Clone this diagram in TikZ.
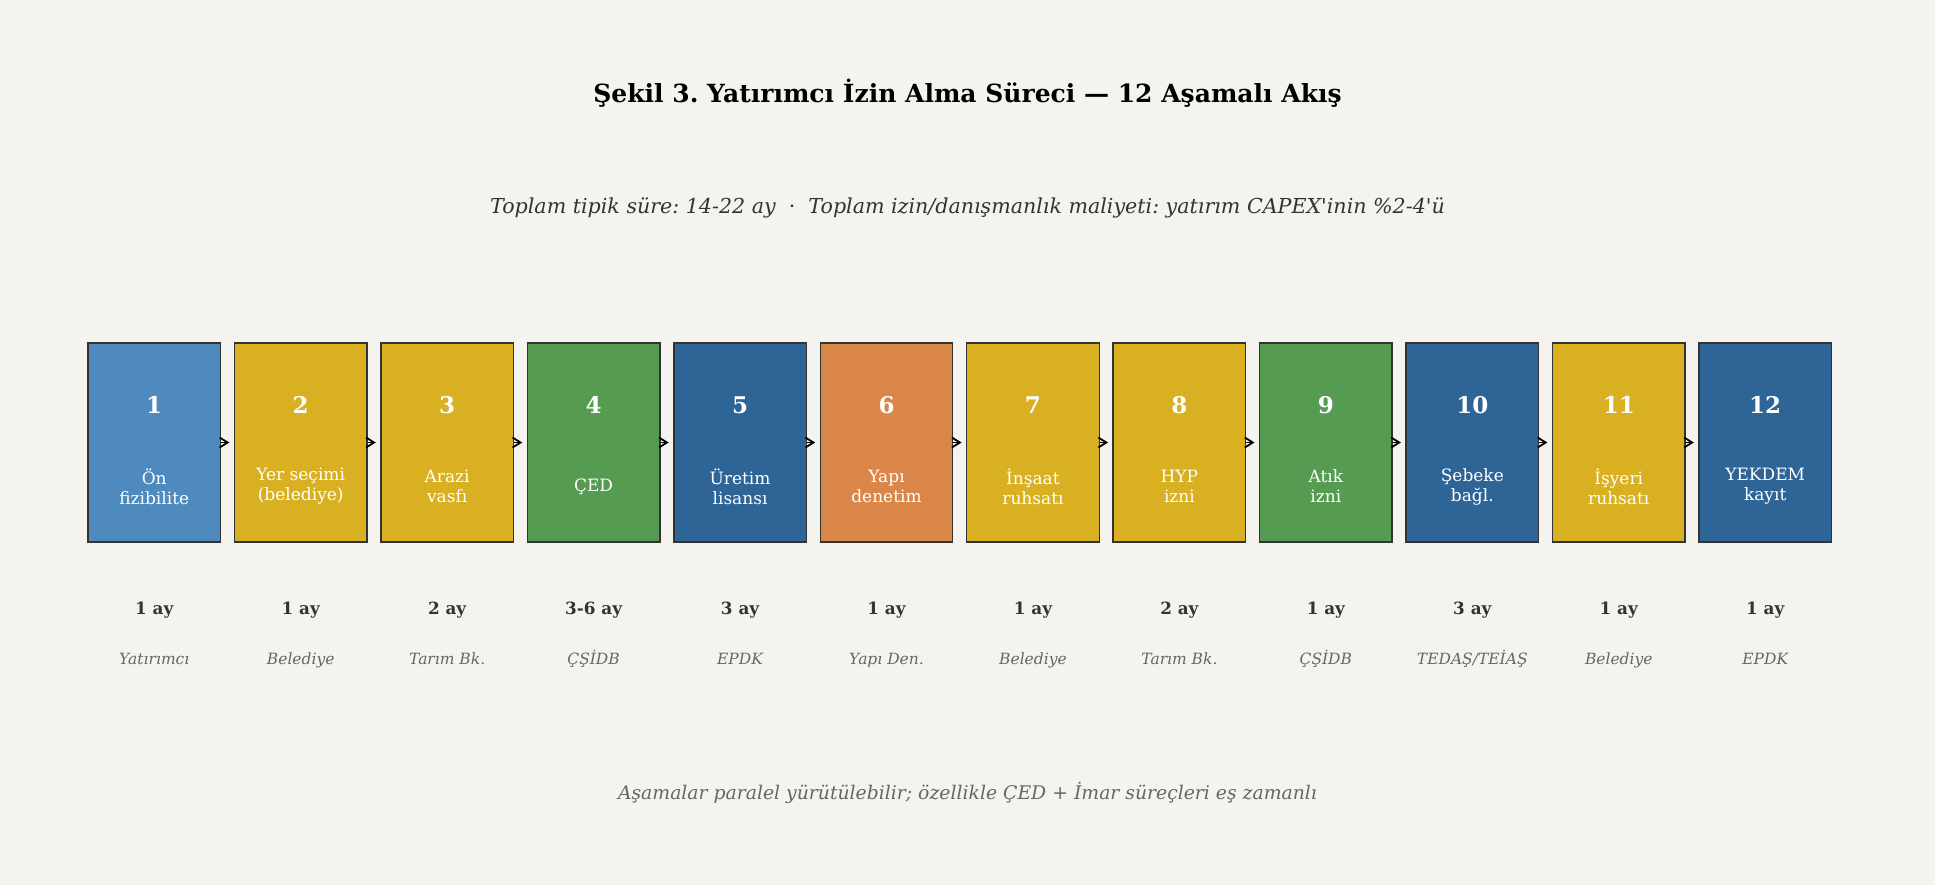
\documentclass[tikz,border=0pt]{standalone}
\usepackage{fontspec}
\setmainfont{DejaVu Serif}
\usetikzlibrary{arrows.meta}
\frenchspacing
\definecolor{bgcream}{HTML}{F5F3ED}
\definecolor{lightblue}{HTML}{4F8ABF}
\definecolor{gold}{HTML}{D9B022}
\definecolor{leafgreen}{HTML}{559B52}
\definecolor{navy}{HTML}{2F6596}
\definecolor{orange}{HTML}{DB8649}
\definecolor{edgegray}{HTML}{333333}
\definecolor{durgray}{HTML}{333333}
\definecolor{agencygray}{HTML}{666666}
\tikzset{
  stage/.style={draw=edgegray, line width=0.7pt, minimum width=66.25pt, minimum height=99.5pt, inner sep=0pt},
  stagenum/.style={text=white, font=\bfseries\fontsize{11.5}{13}\selectfont},
  stagetxt/.style={text=white, align=center, font=\fontsize{8.5}{10}\selectfont},
  dur/.style={text=durgray, text height=1.6ex, text depth=0.4ex, font=\bfseries\fontsize{8.4}{10}\selectfont},
  agency/.style={text=agencygray, text height=1.6ex, text depth=0.4ex, font=\itshape\fontsize{7.75}{9}\selectfont},
  flow/.style={-{Straight Barb[length=4pt,width=5pt]}, line width=0.9pt, shorten >=2.2pt}
}
\begin{document}
\begin{tikzpicture}[x=0.5pt,y=-0.5pt]
\fill[bgcream] (0,0) rectangle (1935,885);
\node[font=\bfseries\fontsize{12.5}{15}\selectfont, text=black] (title) at (967.5,93) {Şekil 3. Yatırımcı İzin Alma Süreci — 12 Aşamalı Akış};
\node[font=\itshape\fontsize{10.3}{12}\selectfont, text=durgray] (subtitle) at (967.5,208) {Toplam tipik süre: 14-22 ay\ \ {\upshape·}\ \ Toplam izin/danışmanlık maliyeti: yatırım CAPEX\textquotesingle inin \%2-4\textquotesingle ü};
% stages
\foreach \i/\col/\lbl/\dur/\ag in {
  1/lightblue/{Ön\\fizibilite}/1 ay/Yatırımcı,
  2/gold/{Yer seçimi\\(belediye)}/1 ay/Belediye,
  3/gold/{Arazi\\vasfı}/2 ay/Tarım Bk.,
  4/leafgreen/{ÇED}/3-6 ay/ÇŞİDB,
  5/navy/{Üretim\\lisansı}/3 ay/EPDK,
  6/orange/{Yapı\\denetim}/1 ay/Yapı Den.,
  7/gold/{İnşaat\\ruhsatı}/1 ay/Belediye,
  8/gold/{HYP\\izni}/2 ay/Tarım Bk.,
  9/leafgreen/{Atık\\izni}/1 ay/ÇŞİDB,
  10/navy/{Şebeke\\bağl.}/3 ay/{TEDAŞ/TEİAŞ},
  11/gold/{İşyeri\\ruhsatı}/1 ay/Belediye,
  12/navy/{YEKDEM\\kayıt}/1 ay/EPDK} {
  \node[stage, fill=\col] (s\i) at ({154.25+146.45*(\i-1)},442.5) {};
  \node[stagenum] (n\i) at ([yshift=18.75pt]s\i.center) {\i};
  \node[stagetxt] (t\i) at ([yshift=-22pt]s\i.center) {\lbl};
  \node[dur] (d\i) at ({154.25+146.45*(\i-1)},608) {\dur};
  \node[agency] (a\i) at ({154.25+146.45*(\i-1)},658) {\ag};
}
\foreach \i [evaluate=\i as \j using int(\i+1)] in {1,...,11}
  \draw[flow] (s\i.east) -- (s\j.west);
\node[font=\itshape\fontsize{9.4}{11}\selectfont, text=agencygray] (note) at (967.5,793) {Aşamalar paralel yürütülebilir; özellikle ÇED + İmar süreçleri eş zamanlı};
\end{tikzpicture}
\end{document}
